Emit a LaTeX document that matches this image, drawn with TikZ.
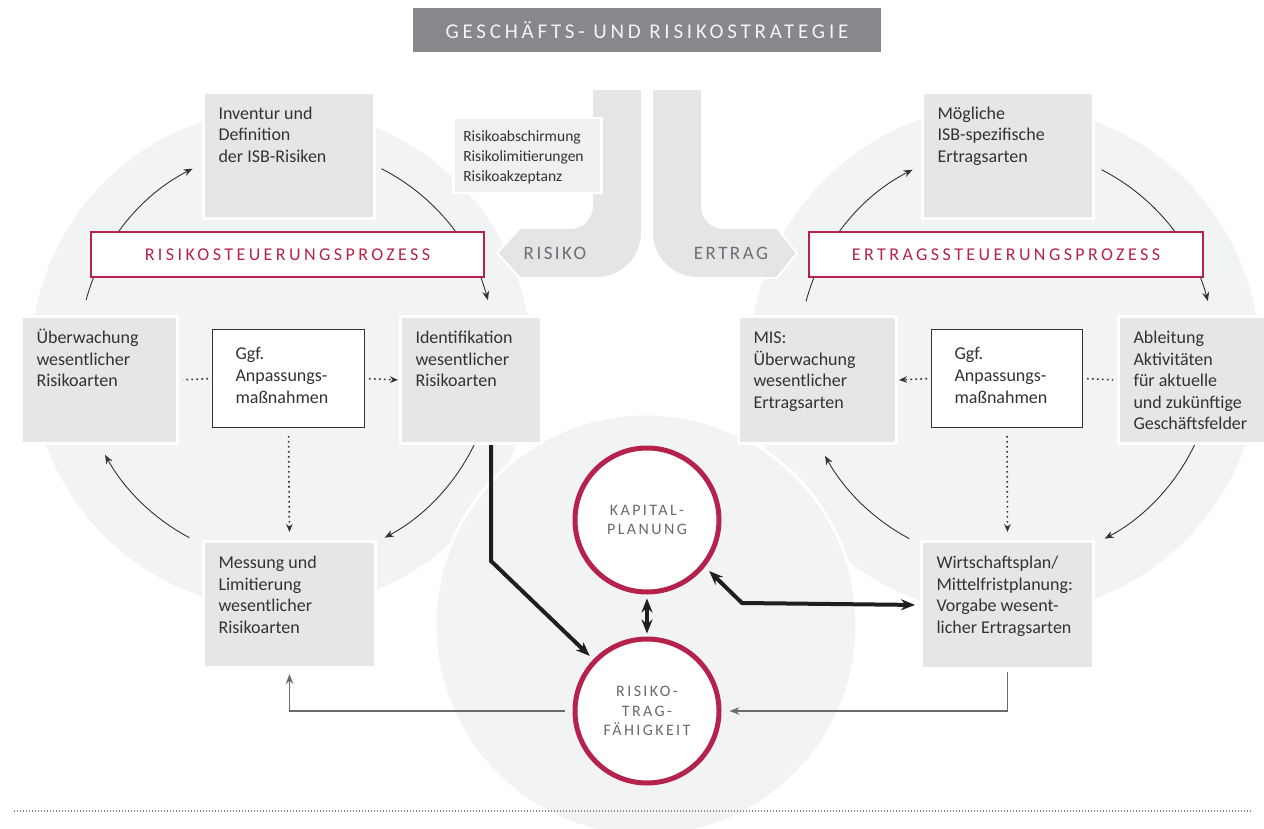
\documentclass[tikz,border=0pt]{standalone}
\usepackage{fontspec}
\setmainfont{Carlito}
\usetikzlibrary{arrows.meta,calc}

\definecolor{discgrey}{HTML}{F2F3F5}
\definecolor{boxgrey}{HTML}{E5E6E8}
\definecolor{tabgrey}{HTML}{E4E5E7}
\definecolor{notegrey}{HTML}{EFF0F1}
\definecolor{bannergrey}{HTML}{87888C}
\definecolor{bannertext}{HTML}{F4F4F5}
\definecolor{crim}{HTML}{B5234C}
\definecolor{ink}{HTML}{333333}
\definecolor{capsgrey}{HTML}{6E6F72}
\definecolor{hubtext}{HTML}{6A6A6C}
\definecolor{linegrey}{HTML}{6C6C6C}
\definecolor{sepgrey}{HTML}{8A8A8A}

% box text: fixed box size, text hung from the top left
\newcommand{\btext}[3]{\parbox[c][#2pt][t]{#1pt}{\raggedright\leftskip=15pt\rule{0pt}{27pt}#3}}
\newcommand{\gtext}[3]{\parbox[c][#2pt][t]{#1pt}{\raggedright\leftskip=23pt\rule{0pt}{29.5pt}#3}}

\tikzset{
  disc/.style={fill=discgrey},
  tab/.style={fill=tabgrey, draw=white, line width=2pt},
  gbox/.style={anchor=north west, inner sep=0pt, fill=boxgrey, draw=white, line width=3pt,
    text=ink, font=\fontsize{18}{21.5}\selectfont},
  ggfbox/.style={anchor=north west, inner sep=0pt, fill=white, draw=ink, line width=1pt,
    text=ink, font=\fontsize{18}{22}\selectfont},
  notebox/.style={anchor=north west, inner sep=0pt, fill=notegrey, draw=white, line width=2.5pt,
    text=ink, font=\fontsize{15.5}{20}\selectfont},
  plabel/.style={draw=crim, line width=1.5pt, fill=white, inner sep=0pt,
    minimum height=45pt, text=crim,
    font=\fontsize{18}{18}\selectfont\addfontfeature{LetterSpace=19}},
  tablabel/.style={inner sep=0pt, text=capsgrey,
    font=\fontsize{19}{19}\selectfont\addfontfeature{LetterSpace=13}},
  banner/.style={fill=bannergrey, inner sep=0pt, minimum width=468pt, minimum height=44pt,
    text=bannertext, font=\fontsize{21}{21}\selectfont\addfontfeature{LetterSpace=18}},
  hub/.style={circle, draw=crim, line width=5pt, fill=white, minimum size=144pt, inner sep=0pt,
    align=center, text=hubtext,
    font=\fontsize{16}{19.5}\selectfont\addfontfeature{LetterSpace=15}},
  proc/.style={draw=ink, line width=0.9pt, -{Stealth[length=9pt,width=7pt]}},
  dotline/.style={draw=ink, line width=1.6pt, dash pattern=on 1.6pt off 3.4pt},
  dotarrow/.style={dotline, -{Stealth[length=8pt,width=6.5pt]}},
  heavy/.style={draw=black!88, line width=4pt, line join=miter,
    -{Stealth[length=14pt,width=11pt]}},
  heavyboth/.style={heavy, {Stealth[length=14pt,width=11pt]}-{Stealth[length=14pt,width=11pt]}},
  feed/.style={draw=linegrey, line width=1.4pt, -{Stealth[length=10pt,width=7.5pt]}},
}

\begin{document}
\begin{tikzpicture}[x=1pt,y=-1pt]
\useasboundingbox (0,0) rectangle (1264,829);
\fill[white] (0,0) rectangle (1264,829);

% background discs of the two control cycles and the central one
\fill[disc] (281,359) circle[radius=250];
\fill[disc] (1005,360) circle[radius=255];
\filldraw[disc, draw=white, line width=3pt] (646,625) circle[radius=211];

% strategy banner
\node[banner] (banner) at (647,30) {GESCHÄFTS- UND RISIKOSTRATEGIE};

% the two branches coming down from the strategy
\filldraw[tab] (592,89) -- (642,89) -- (642,233) arc[start angle=0,end angle=90,radius=45]
  -- (520,278) -- (497,253) -- (520,228) -- (570,228) arc[start angle=90,end angle=0,radius=22] -- cycle;
\filldraw[tab] (652,89) -- (702,89) -- (702,206) arc[start angle=180,end angle=90,radius=22]
  -- (777,228) -- (797,253) -- (777,278) -- (697,278) arc[start angle=90,end angle=180,radius=45] -- cycle;
\node[tablabel] (risiko) at (555,253) {RISIKO};
\node[tablabel] (ertrag) at (731,253) {ERTRAG};

% cycle centres
\coordinate (lc) at (287,354);
\coordinate (rc) at (1007,355);

% cycle arrows, left
\draw[proc] ($(lc)+(195:208)$) arc[start angle=195,end angle=243,radius=208];
\draw[proc] ($(lc)+(297:208)$) arc[start angle=297,end angle=345,radius=208];
\draw[proc] ($(lc)+(25:208)$) arc[start angle=25,end angle=62,radius=208];
\draw[proc] ($(lc)+(118:208)$) arc[start angle=118,end angle=151,radius=208];
% cycle arrows, right
\draw[proc] ($(rc)+(195:208)$) arc[start angle=195,end angle=243,radius=208];
\draw[proc] ($(rc)+(297:208)$) arc[start angle=297,end angle=345,radius=208];
\draw[proc] ($(rc)+(25:208)$) arc[start angle=25,end angle=62,radius=208];
\draw[proc] ($(rc)+(118:208)$) arc[start angle=118,end angle=151,radius=208];

% risk cycle boxes
\node[gbox] (inv) at (202,91) {\btext{171}{126}{Inventur und\\Definition\\der ISB-Risiken}};
\node[gbox] (ueb) at (20,315) {\btext{156}{127}{Überwachung\\wesentlicher\\Risikoarten}};
\node[gbox] (ident) at (399,315) {\btext{141}{127}{Identifikation\\wesentlicher\\Risikoarten}};
\node[gbox] (mess) at (202,540) {\btext{172}{126}{Messung und\\Limitierung\\wesentlicher\\Risikoarten}};
\node[ggfbox] (ggfL) at (212,329) {\gtext{152}{98}{Ggf.\\Anpassungs-\\maßnahmen}};

% earnings cycle boxes
\node[gbox] (moeg) at (921,91) {\btext{171}{126}{Mögliche\\ISB-spezifische\\Ertragsarten}};
\node[gbox] (mis) at (737,315) {\btext{158}{127}{MIS:\\Überwachung\\wesentlicher\\Ertragsarten}};
\node[gbox] (ableit) at (1117,315) {\btext{150}{127}{Ableitung\\Aktivitäten\\für aktuelle\\und zukünftige\\Geschäftsfelder}};
\node[gbox] (wirt) at (920,540) {\btext{172}{127}{Wirtschaftsplan/\\Mittelfristplanung:\\Vorgabe wesent-\\licher Ertragsarten}};
\node[ggfbox] (ggfR) at (931,329) {\gtext{151}{98}{Ggf.\\Anpassungs-\\maßnahmen}};

% process labels
\node[plabel, minimum width=393pt] (rsp) at (287.5,254.5) {RISIKOSTEUERUNGSPROZESS};
\node[plabel, minimum width=394pt] (esp) at (1006,254.5) {ERTRAGSSTEUERUNGSPROZESS};

% risk instruments
\node[notebox] (note) at (452,117) {\parbox[c][75pt][t]{148pt}{\raggedright\leftskip=10pt\rule{0pt}{23pt}Risikoabschirmung\\Risikolimitierungen\\Risikoakzeptanz}};

% adjustment links
\draw[dotline, shorten <=4pt, shorten >=4pt] (ggfL.west) -- (ueb.east);
\draw[dotarrow, shorten <=4pt, shorten >=1pt] (ggfL.east) -- (ident.west);
\draw[dotarrow, shorten <=8pt, shorten >=8pt] (ggfL.south) -- (mess.north);
\draw[dotarrow, shorten <=4pt, shorten >=1pt] (ggfR.west) -- (mis.east);
\draw[dotline, shorten <=4pt, shorten >=4pt] (ggfR.east) -- (ableit.west);
\draw[dotarrow, shorten <=8pt, shorten >=8pt] (ggfR.south) -- (wirt.north);

% capital planning and risk-bearing capacity
\node[hub] (kap) at (647,520) {KAPITAL-\\PLANUNG};
\node[hub] (rtf) at (647,711) {RISIKO-\\TRAG-\\FÄHIGKEIT};

\coordinate (kinkL) at (491,561);
\coordinate (kinkR) at (742,603);
\draw[heavy, shorten >=5pt] (kinkL |- ident.south) -- (kinkL) -- (rtf);
\draw[heavyboth, shorten <=6pt, shorten >=5pt] (kap.-39) -- (kinkR) -- (wirt.west);
\draw[heavyboth, line width=3.5pt, shorten <=4pt, shorten >=3pt] (kap.south) -- (rtf.north);

\draw[feed, shorten <=8pt, shorten >=5pt] (rtf.west) -| (mess.south);
\draw[feed, shorten <=2pt, shorten >=8pt] (wirt.south) |- (rtf.east);

% footer rule
\draw[sepgrey, line width=1.2pt, dash pattern=on 1pt off 2pt] (14,811) -- (1252,811);
\end{tikzpicture}
\end{document}
